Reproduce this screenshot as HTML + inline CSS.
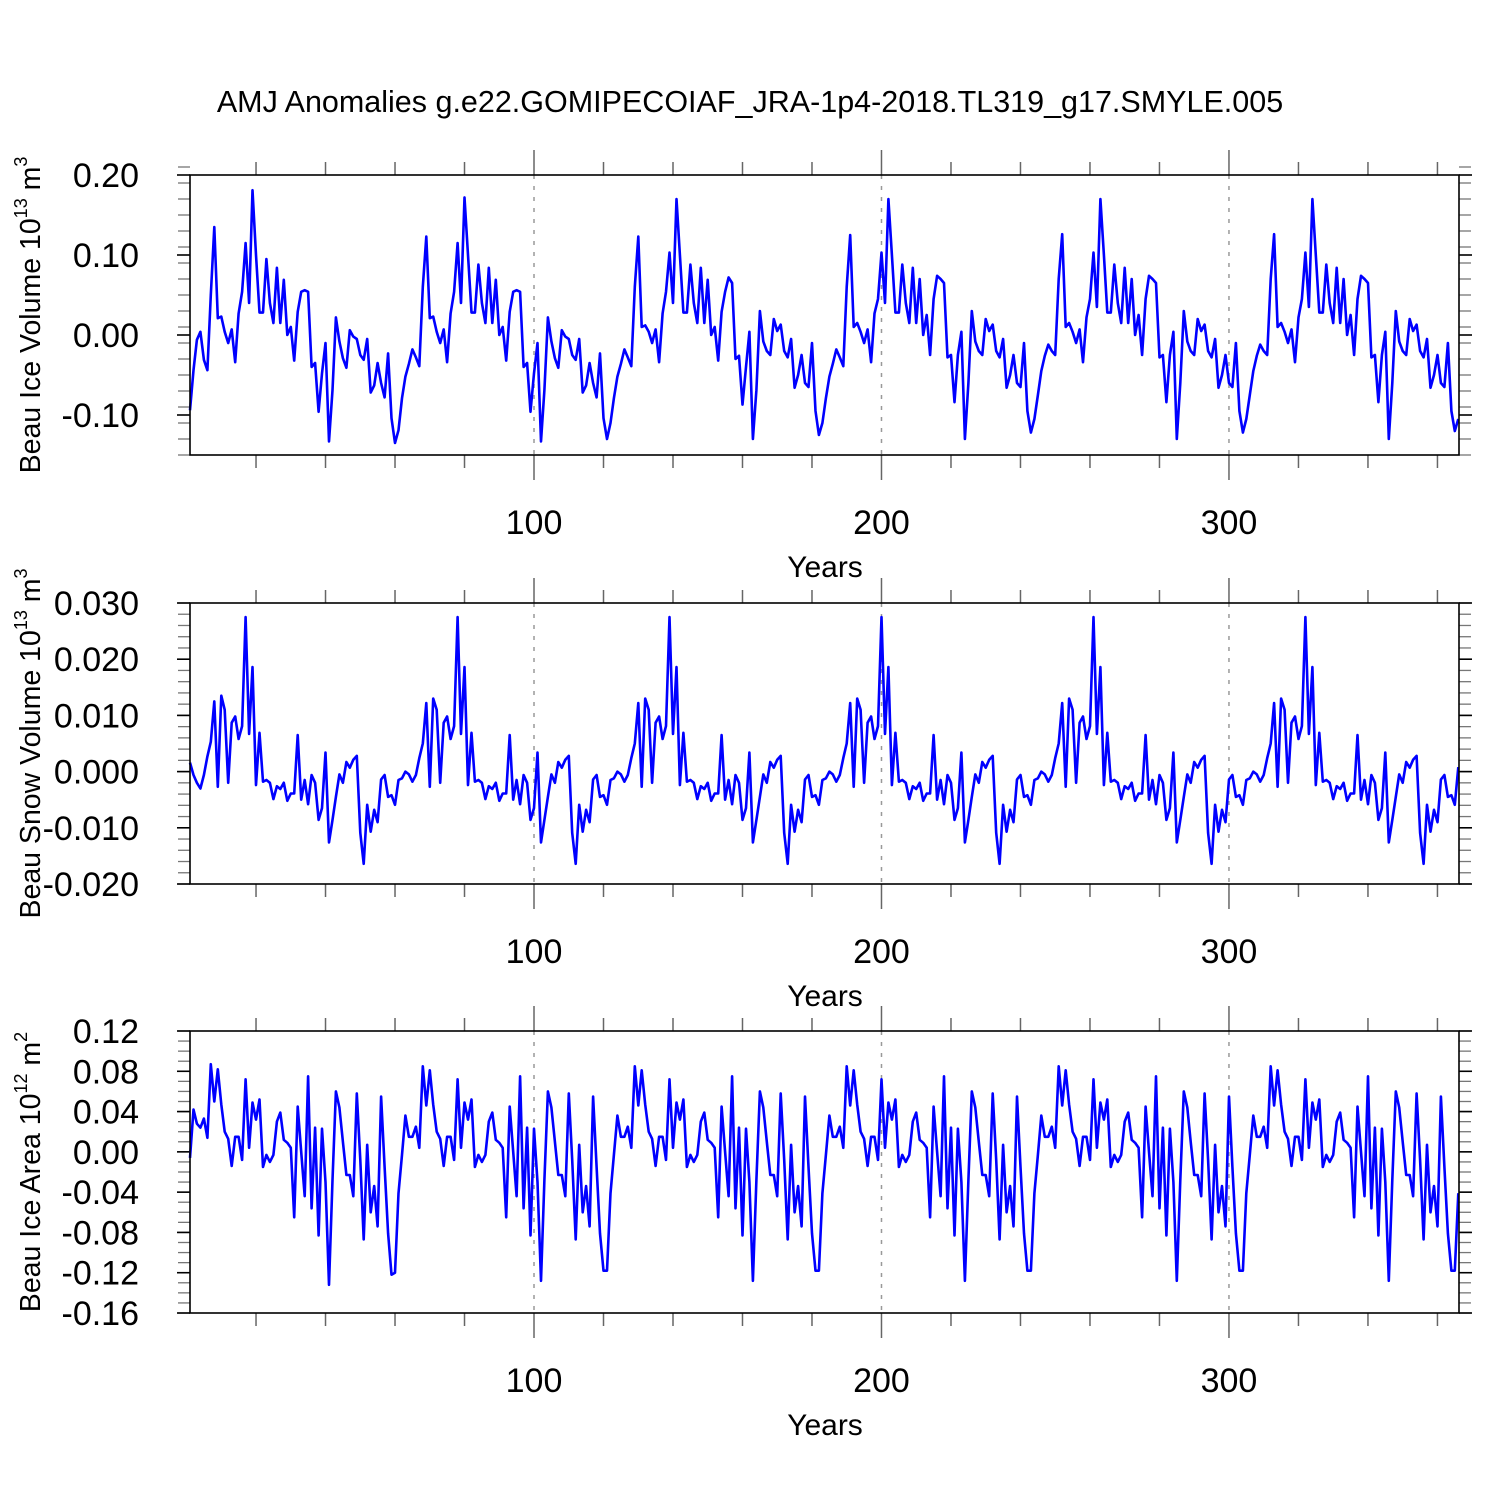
<!DOCTYPE html>
<html><head><meta charset="utf-8"><style>
html,body{margin:0;padding:0;background:#fff;}
svg{display:block;font-family:"Liberation Sans",Arial,sans-serif;}
</style></head><body>
<svg id="chart" width="1500" height="1500" viewBox="0 0 1500 1500" xmlns="http://www.w3.org/2000/svg">
<text x="750" y="112" font-size="30.5" text-anchor="middle">AMJ Anomalies g.e22.GOMIPECOIAF_JRA-1p4-2018.TL319_g17.SMYLE.005</text>
</svg>
<script>
const iceVolume = [
-0.094,-0.044,-0.006,0.004,-0.031,-0.044,0.05,0.135,0.021,0.023,0.004,-0.01,0.007,-0.034,0.027,0.054,0.115,0.04,0.181,0.1,0.028,0.028,0.095,0.04,0.015,0.084,0.015,0.069,0,0.01,-0.032,0.029,0.054,0.056,0.054,-0.04,-0.035,-0.096,-0.048,-0.01,-0.133,-0.069,0.022,-0.008,-0.029,-0.041,0.006,-0.002,-0.005,-0.025,-0.031,-0.005,-0.072,-0.063,-0.035,-0.06,-0.078,-0.023,-0.104,-0.135,-0.119,
-0.079,-0.052,-0.036,-0.018,-0.028,-0.039,0.06,0.123,0.021,0.023,0.004,-0.01,0.007,-0.034,0.027,0.054,0.115,0.04,0.172,0.1,0.028,0.028,0.088,0.04,0.015,0.084,0.015,0.069,0,0.01,-0.032,0.029,0.054,0.056,0.054,-0.04,-0.035,-0.096,-0.048,-0.01,-0.133,-0.069,0.022,-0.008,-0.029,-0.041,0.006,-0.002,-0.005,-0.025,-0.031,-0.005,-0.072,-0.063,-0.035,-0.06,-0.078,-0.023,-0.104,-0.13,-0.11,
-0.079,-0.052,-0.036,-0.018,-0.028,-0.039,0.06,0.123,0.01,0.012,0.004,-0.01,0.007,-0.034,0.027,0.054,0.103,0.04,0.17,0.1,0.028,0.028,0.088,0.04,0.015,0.084,0.015,0.069,0,0.01,-0.032,0.029,0.054,0.072,0.065,-0.03,-0.026,-0.087,-0.04,0.004,-0.13,-0.069,0.03,-0.008,-0.02,-0.025,0.02,0.005,0.013,-0.02,-0.028,-0.005,-0.066,-0.05,-0.025,-0.06,-0.065,-0.01,-0.095,-0.125,-0.11,
-0.079,-0.052,-0.036,-0.018,-0.028,-0.039,0.06,0.125,0.01,0.015,0.004,-0.01,0.007,-0.034,0.027,0.045,0.103,0.04,0.17,0.1,0.028,0.028,0.088,0.04,0.015,0.084,0.015,0.07,0,0.025,-0.025,0.045,0.074,0.07,0.065,-0.028,-0.025,-0.084,-0.025,0.004,-0.13,-0.06,0.03,-0.008,-0.02,-0.025,0.02,0.005,0.013,-0.02,-0.028,-0.005,-0.066,-0.05,-0.025,-0.06,-0.065,-0.01,-0.095,-0.122,-0.105,
-0.075,-0.045,-0.026,-0.012,-0.02,-0.025,0.07,0.126,0.01,0.015,0.004,-0.01,0.007,-0.034,0.022,0.045,0.103,0.035,0.17,0.1,0.028,0.028,0.088,0.04,0.015,0.084,0.015,0.07,0,0.025,-0.025,0.045,0.074,0.07,0.065,-0.028,-0.025,-0.084,-0.025,0.004,-0.13,-0.06,0.03,-0.008,-0.02,-0.025,0.02,0.005,0.013,-0.02,-0.028,-0.005,-0.066,-0.05,-0.025,-0.06,-0.065,-0.01,-0.095,-0.122,-0.105,
-0.075,-0.045,-0.026,-0.012,-0.02,-0.025,0.07,0.126,0.01,0.015,0.004,-0.01,0.007,-0.034,0.022,0.045,0.103,0.035,0.17,0.1,0.028,0.028,0.088,0.04,0.015,0.084,0.015,0.07,0,0.025,-0.025,0.045,0.074,0.07,0.065,-0.028,-0.025,-0.084,-0.025,0.004,-0.13,-0.06,0.03,-0.008,-0.02,-0.025,0.02,0.005,0.013,-0.02,-0.028,-0.005,-0.066,-0.05,-0.025,-0.06,-0.065,-0.01,-0.095,-0.12,-0.105
];
const snowVolume = [
0.0016,-0.0006,-0.002,-0.003,-0.0006,0.0027,0.0053,0.0125,-0.0027,0.0135,0.011,-0.002,0.0087,0.0098,0.0058,0.0081,0.0275,0.0067,0.0186,-0.0024,0.0069,-0.0018,-0.0015,-0.002,-0.0049,-0.0026,-0.0031,-0.002,-0.0052,-0.0039,-0.0039,0.0065,-0.005,-0.0015,-0.0058,-0.0006,-0.002,-0.0086,-0.0065,0.0034,-0.0126,-0.0086,-0.0045,-0.0005,-0.002,0.0017,0.0007,0.0021,0.0028,-0.0109,-0.0164,-0.0059,-0.0107,-0.0068,-0.009,-0.0014,-0.0006,-0.0045,-0.0042,-0.0059,-0.0015,
-0.0012,0,-0.0005,-0.0018,-0.0006,0.0024,0.005,0.0122,-0.0027,0.013,0.011,-0.002,0.0087,0.0098,0.0058,0.0081,0.0275,0.0067,0.0186,-0.0024,0.0069,-0.0018,-0.0015,-0.002,-0.0049,-0.0026,-0.0031,-0.002,-0.0052,-0.0039,-0.0039,0.0065,-0.005,-0.0015,-0.0058,-0.0006,-0.002,-0.0086,-0.0065,0.0034,-0.0126,-0.0086,-0.0045,-0.0005,-0.002,0.0017,0.0007,0.0021,0.0028,-0.0109,-0.0164,-0.0059,-0.0107,-0.0068,-0.009,-0.0014,-0.0006,-0.0045,-0.0042,-0.0059,-0.0015,
-0.0012,0,-0.0005,-0.0018,-0.0006,0.0024,0.005,0.0122,-0.0027,0.013,0.011,-0.002,0.0087,0.0098,0.0058,0.0081,0.0275,0.0067,0.0186,-0.0024,0.0069,-0.0018,-0.0015,-0.002,-0.0049,-0.0026,-0.0031,-0.002,-0.0052,-0.0039,-0.0039,0.0065,-0.005,-0.0015,-0.0058,-0.0006,-0.002,-0.0086,-0.0065,0.0034,-0.0126,-0.0086,-0.0045,-0.0005,-0.002,0.0017,0.0007,0.0021,0.0028,-0.0109,-0.0164,-0.0059,-0.0107,-0.0068,-0.009,-0.0014,-0.0006,-0.0045,-0.0042,-0.0059,-0.0015,
-0.0012,0,-0.0005,-0.0018,-0.0006,0.0024,0.005,0.0122,-0.0027,0.013,0.011,-0.002,0.0087,0.0098,0.0058,0.0081,0.0275,0.0067,0.0186,-0.0024,0.0069,-0.0018,-0.0015,-0.002,-0.0049,-0.0026,-0.0031,-0.002,-0.0052,-0.0039,-0.0039,0.0065,-0.005,-0.0015,-0.0058,-0.0006,-0.002,-0.0086,-0.0065,0.0034,-0.0126,-0.0086,-0.0045,-0.0005,-0.002,0.0017,0.0007,0.0021,0.0028,-0.0109,-0.0164,-0.0059,-0.0107,-0.0068,-0.009,-0.0014,-0.0006,-0.0045,-0.0042,-0.0059,-0.0015,
-0.0012,0,-0.0005,-0.0018,-0.0006,0.0024,0.005,0.0122,-0.0027,0.013,0.011,-0.002,0.0087,0.0098,0.0058,0.0081,0.0275,0.0067,0.0186,-0.0024,0.0069,-0.0018,-0.0015,-0.002,-0.0049,-0.0026,-0.0031,-0.002,-0.0052,-0.0039,-0.0039,0.0065,-0.005,-0.0015,-0.0058,-0.0006,-0.002,-0.0086,-0.0065,0.0034,-0.0126,-0.0086,-0.0045,-0.0005,-0.002,0.0017,0.0007,0.0021,0.0028,-0.0109,-0.0164,-0.0059,-0.0107,-0.0068,-0.009,-0.0014,-0.0006,-0.0045,-0.0042,-0.0059,-0.0015,
-0.0012,0,-0.0005,-0.0018,-0.0006,0.0024,0.005,0.0122,-0.0027,0.013,0.011,-0.002,0.0087,0.0098,0.0058,0.0081,0.0275,0.0067,0.0186,-0.0024,0.0069,-0.0018,-0.0015,-0.002,-0.0049,-0.0026,-0.0031,-0.002,-0.0052,-0.0039,-0.0039,0.0065,-0.005,-0.0015,-0.0058,-0.0006,-0.002,-0.0086,-0.0065,0.0034,-0.0126,-0.0086,-0.0045,-0.0005,-0.002,0.0017,0.0007,0.0021,0.0028,-0.0109,-0.0164,-0.0059,-0.0107,-0.0068,-0.009,-0.0014,-0.0006,-0.0045,-0.0042,-0.0059,0.0008
];
const iceArea = [
-0.006,0.042,0.028,0.024,0.033,0.014,0.087,0.05,0.082,0.047,0.02,0.013,-0.014,0.015,0.015,-0.008,0.072,0.004,0.049,0.032,0.052,-0.015,-0.003,-0.01,-0.003,0.03,0.039,0.012,0.009,0.004,-0.065,0.045,0,-0.044,0.075,-0.056,0.024,-0.083,0.023,-0.03,-0.132,-0.028,0.06,0.044,0.01,-0.023,-0.023,-0.044,0.058,-0.008,-0.087,0.007,-0.06,-0.034,-0.074,0.055,-0.015,-0.081,-0.122,-0.12,-0.041,
-0.003,0.036,0.015,0.015,0.025,0.004,0.085,0.046,0.081,0.047,0.02,0.013,-0.014,0.015,0.015,-0.008,0.072,0.004,0.049,0.032,0.052,-0.015,-0.003,-0.01,-0.003,0.03,0.039,0.012,0.009,0.004,-0.065,0.045,0,-0.044,0.075,-0.056,0.024,-0.083,0.023,-0.03,-0.128,-0.028,0.06,0.044,0.01,-0.023,-0.023,-0.044,0.058,-0.008,-0.087,0.007,-0.06,-0.034,-0.074,0.055,-0.015,-0.081,-0.118,-0.118,-0.041,
-0.003,0.036,0.015,0.015,0.025,0.004,0.085,0.046,0.081,0.047,0.02,0.013,-0.014,0.015,0.015,-0.008,0.072,0.004,0.049,0.032,0.052,-0.015,-0.003,-0.01,-0.003,0.03,0.039,0.012,0.009,0.004,-0.065,0.045,0,-0.044,0.075,-0.056,0.024,-0.083,0.023,-0.03,-0.128,-0.028,0.06,0.044,0.01,-0.023,-0.023,-0.044,0.058,-0.008,-0.087,0.007,-0.06,-0.034,-0.074,0.055,-0.015,-0.081,-0.118,-0.118,-0.041,
-0.003,0.036,0.015,0.015,0.025,0.004,0.085,0.046,0.081,0.047,0.02,0.013,-0.014,0.015,0.015,-0.008,0.072,0.004,0.049,0.032,0.052,-0.015,-0.003,-0.01,-0.003,0.03,0.039,0.012,0.009,0.004,-0.065,0.045,0,-0.044,0.075,-0.056,0.024,-0.083,0.023,-0.03,-0.128,-0.028,0.06,0.044,0.01,-0.023,-0.023,-0.044,0.058,-0.008,-0.087,0.007,-0.06,-0.034,-0.074,0.055,-0.015,-0.081,-0.118,-0.118,-0.041,
-0.003,0.036,0.015,0.015,0.025,0.004,0.085,0.046,0.081,0.047,0.02,0.013,-0.014,0.015,0.015,-0.008,0.072,0.004,0.049,0.032,0.052,-0.015,-0.003,-0.01,-0.003,0.03,0.039,0.012,0.009,0.004,-0.065,0.045,0,-0.044,0.075,-0.056,0.024,-0.083,0.023,-0.03,-0.128,-0.028,0.06,0.044,0.01,-0.023,-0.023,-0.044,0.058,-0.008,-0.087,0.007,-0.06,-0.034,-0.074,0.055,-0.015,-0.081,-0.118,-0.118,-0.041,
-0.003,0.036,0.015,0.015,0.025,0.004,0.085,0.046,0.081,0.047,0.02,0.013,-0.014,0.015,0.015,-0.008,0.072,0.004,0.049,0.032,0.052,-0.015,-0.003,-0.01,-0.003,0.03,0.039,0.012,0.009,0.004,-0.065,0.045,0,-0.044,0.075,-0.056,0.024,-0.083,0.023,-0.03,-0.128,-0.028,0.06,0.044,0.01,-0.023,-0.023,-0.044,0.058,-0.008,-0.087,0.007,-0.06,-0.034,-0.074,0.055,-0.015,-0.081,-0.118,-0.118,-0.041
];
const xTickLabels = ["100","200","300"];
const iceVolTicks = ["0.20","0.10","0.00","-0.10"];
const snowVolTicks = ["0.030","0.020","0.010","0.000","-0.010","-0.020"];
const iceAreaTicks = ["0.12","0.08","0.04","0.00","-0.04","-0.08","-0.12","-0.16"];

const NS = "http://www.w3.org/2000/svg";
const svg = document.getElementById("chart");
const X0 = 190, X1 = 1459, XMIN = 1, XMAX = 366.2;
function xScale(yr){ return X0 + (yr - XMIN) / (XMAX - XMIN) * (X1 - X0); }
function mk(tag, attrs, parent){
  const e = document.createElementNS(NS, tag);
  for (const k in attrs) e.setAttribute(k, attrs[k]);
  (parent || svg).appendChild(e);
  return e;
}
const panels = [
  {key:"ice-volume", data:iceVolume, ticks:iceVolTicks, top:175, bot:455, ymin:-0.15, ymax:0.20, minorStep:0.02, label:["Beau Ice Volume 10","13"," m","3"]},
  {key:"snow-volume", data:snowVolume, ticks:snowVolTicks, top:603, bot:884, ymin:-0.02, ymax:0.03, minorStep:0.002, label:["Beau Snow Volume 10","13"," m","3"]},
  {key:"ice-area", data:iceArea, ticks:iceAreaTicks, top:1031, bot:1313, ymin:-0.16, ymax:0.12, minorStep:0.01, label:["Beau Ice Area 10","12"," m","2"]}
];
panels.forEach(p => {
  const g = mk("g", {});
  
  
  const yScale = v => p.bot - (v - p.ymin) / (p.ymax - p.ymin) * (p.bot - p.top);
  xTickLabels.forEach(t => {
    const x = xScale(+t);
    const l = mk("line", {x1:x, x2:x, y1:p.top, y2:p.bot, stroke:"#999", "stroke-width":1.5, "stroke-dasharray":"4,7"}, g);
    
    
  });
  for (let yr = 20; yr <= 360; yr += 20) {
    const x = xScale(yr);
    const major = yr % 100 === 0;
    const len = major ? 25 : 13;
    mk("line", {x1:x, x2:x, y1:p.top, y2:p.top - len, stroke:"#666", "stroke-width":1.5}, g);
    mk("line", {x1:x, x2:x, y1:p.bot, y2:p.bot + len, stroke:"#666", "stroke-width":1.5}, g);
  }
  xTickLabels.forEach(t => {
    const tx = mk("text", {x:xScale(+t), y:p.bot + 79, "font-size":34, "text-anchor":"middle"}, g);
    tx.textContent = t;
    
    
  });
  const xt = mk("text", {x:825, y:p.bot + 122, "font-size":30, "text-anchor":"middle"}, g);
  xt.textContent = "Years";
  
  
  const n = Math.round((p.ymax - p.ymin) / p.minorStep);
  for (let i = 0; i <= n; i++) {
    const y = yScale(p.ymin + i * p.minorStep);
    mk("line", {x1:X0, x2:X0 - 12, y1:y, y2:y, stroke:"#777", "stroke-width":1.3}, g);
    mk("line", {x1:X1, x2:X1 + 12, y1:y, y2:y, stroke:"#777", "stroke-width":1.3}, g);
  }
  p.ticks.forEach(t => {
    const y = yScale(parseFloat(t));
    mk("line", {x1:X0, x2:X0 - 13, y1:y, y2:y, stroke:"#000", "stroke-width":1.6}, g);
    mk("line", {x1:X1, x2:X1 + 13, y1:y, y2:y, stroke:"#000", "stroke-width":1.6}, g);
    const tx = mk("text", {x:139, y:y + 12, "font-size":34, "text-anchor":"end"}, g);
    tx.textContent = t;
    
    
  });
  const cy = (p.top + p.bot) / 2;
  const yl = mk("text", {x:0, y:0, "font-size":28.5, "text-anchor":"middle", transform:`translate(40,${cy}) rotate(-90)`}, g);
  
  
  const parts = p.label;
  const t1 = mk("tspan", {}, yl); t1.textContent = parts[0];
  const t2 = mk("tspan", {"font-size":18, dy:-13}, yl); t2.textContent = parts[1];
  const t3 = mk("tspan", {dy:13}, yl); t3.textContent = parts[2];
  const t4 = mk("tspan", {"font-size":18, dy:-13}, yl); t4.textContent = parts[3];
  const pts = p.data.map((v, i) => xScale(i + 1).toFixed(1) + "," + yScale(v).toFixed(1)).join(" ");
  const line = mk("polyline", {points:pts, fill:"none", stroke:"#0000ff", "stroke-width":2.6, "stroke-linejoin":"round"}, g);
  
  
  const fr = mk("rect", {x:X0, y:p.top, width:X1 - X0, height:p.bot - p.top, fill:"none", stroke:"#000", "stroke-width":1.6}, g);
  
  
});
</script>
</body></html>
